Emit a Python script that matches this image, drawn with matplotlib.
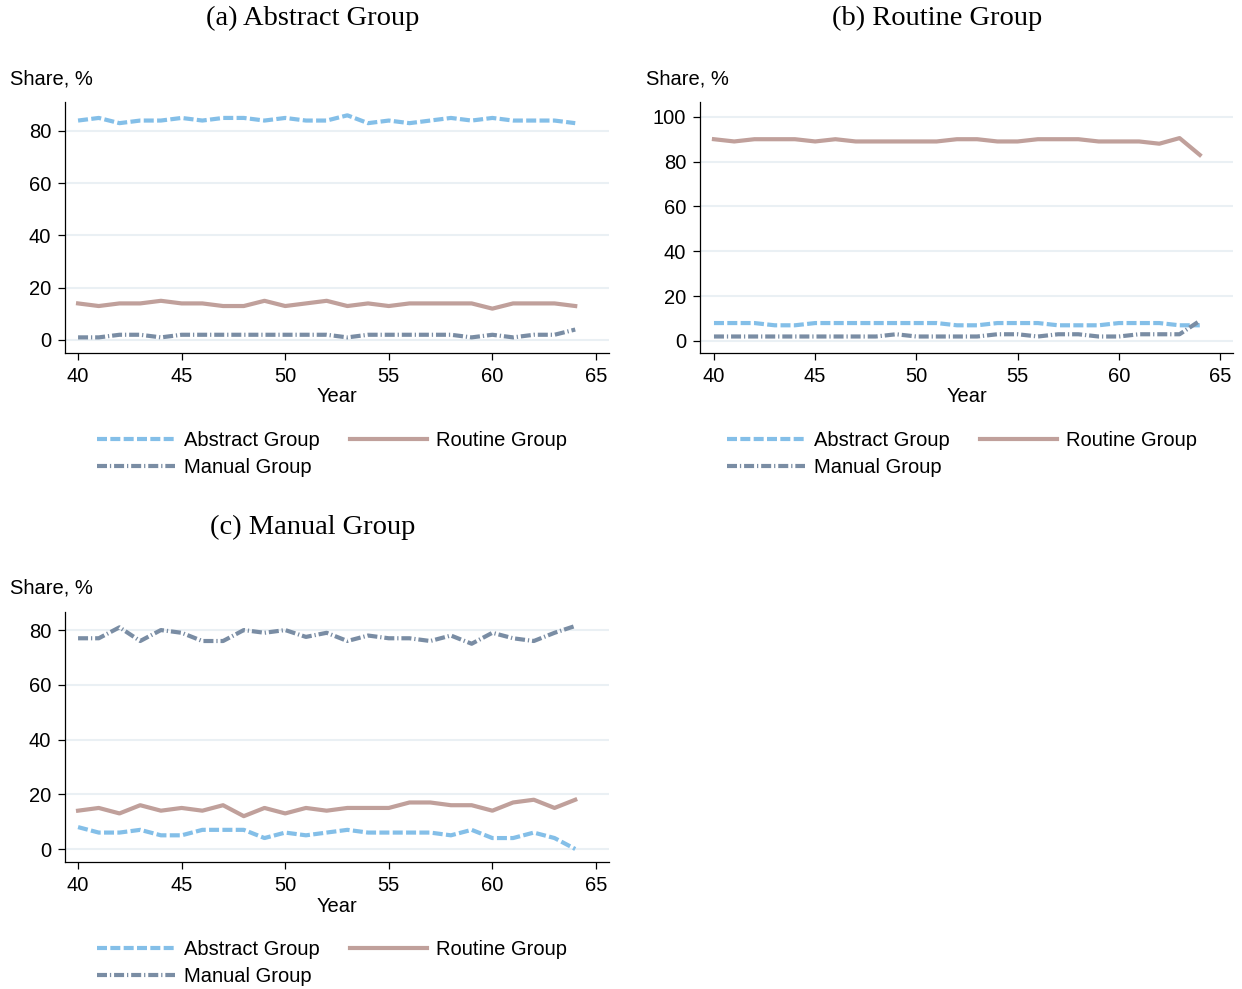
import numpy as np
import matplotlib
matplotlib.use("Agg")
import matplotlib.pyplot as plt

# Data
years = list(range(40, 65))

# panel (a) Abstract Group
a_abstract = [84, 85, 83, 84, 84, 85, 84, 85, 85, 84, 85, 84, 84, 86, 83,
              84, 83, 84, 85, 84, 85, 84, 84, 84, 83]
a_routine = [14, 13, 14, 14, 15, 14, 14, 13, 13, 15, 13, 14, 15, 13, 14,
             13, 14, 14, 14, 14, 12, 14, 14, 14, 13]
a_manual = [1, 1, 2, 2, 1, 2, 2, 2, 2, 2, 2, 2, 2, 1, 2,
            2, 2, 2, 2, 1, 2, 1, 2, 2, 4]

# panel (b) Routine Group
b_abstract = [8, 8, 8, 7, 7, 8, 8, 8, 8, 8, 8, 8, 7, 7, 8,
              8, 8, 7, 7, 7, 8, 8, 8, 7, 7]
b_routine = [90, 89, 90, 90, 90, 89, 90, 89, 89, 89, 89, 89, 90, 90, 89,
             89, 90, 90, 90, 89, 89, 89, 88, 90.5, 83]
b_manual = [2, 2, 2, 2, 2, 2, 2, 2, 2, 3, 2, 2, 2, 2, 3,
            3, 2, 3, 3, 2, 2, 3, 3, 3, 9]

# panel (c) Manual Group
c_abstract = [8, 6, 6, 7, 5, 5, 7, 7, 7, 4, 6, 5, 6, 7, 6,
              6, 6, 6, 5, 7, 4, 4, 6, 4, 0]
c_routine = [14, 15, 13, 16, 14, 15, 14, 16, 12, 15, 13, 15, 14, 15, 15,
             15, 17, 17, 16, 16, 14, 17, 18, 15, 18]
c_manual = [77, 77, 81, 76, 80, 79, 76, 76, 80, 79, 80, 77.5, 79, 76, 78,
            77, 77, 76, 78, 75, 79, 77, 76, 79, 81.5]

titles = ["(a) Abstract Group", "(b) Routine Group", "(c) Manual Group"]
labels = ["Abstract Group", "Routine Group", "Manual Group"]

col_abs = "#84bfe8"
col_rou = "#c0a09b"
col_man = "#7a8da4"
grid_col = "#eaf0f4"

plt.rcParams["font.family"] = ["Liberation Sans", "DejaVu Sans"]

W, H = 1242, 989
fig = plt.figure(figsize=(W / 100, H / 100), dpi=100)


def px_axes(l, t, r, b):
    return fig.add_axes([l / W, 1 - b / H, (r - l) / W, (b - t) / H])


panels = [
    # axes box (px), ylim, yticks, data, title centre, share pos, year pos, legend pos
    dict(box=(65, 102, 609, 353), ylim=(-4.98, 91.1), yt=range(0, 81, 20),
         xlim=(39.37, 65.63),
         data=(a_abstract, a_routine, a_manual), title=(313, 18),
         share=(10, 79), year=(337, 397), leg=(97, 431)),
    dict(box=(700, 102, 1233, 353), ylim=(-5.36, 106.6), yt=range(0, 101, 20),
         xlim=(39.31, 65.64),
         data=(b_abstract, b_routine, b_manual), title=(937, 18),
         share=(646, 79), year=(967, 397), leg=(727, 431)),
    dict(box=(65, 612, 609, 862), ylim=(-4.75, 86.6), yt=range(0, 81, 20),
         xlim=(39.37, 65.63),
         data=(c_abstract, c_routine, c_manual), title=(313, 527),
         share=(10, 588), year=(337, 906), leg=(97, 940)),
]

fs = 14.5
for i, p in enumerate(panels):
    ax = px_axes(*p["box"])
    ab, ro, ma = p["data"]
    l1, = ax.plot(years, ab, color=col_abs, lw=3, dashes=(2.4, 0.8),
                  label=labels[0], zorder=3)
    l2, = ax.plot(years, ro, color=col_rou, lw=3, label=labels[1], zorder=3)
    l3, = ax.plot(years, ma, color=col_man, lw=3,
                  dashes=(2.4, 0.7, 0.3, 0.7), label=labels[2], zorder=3)
    ax.set_xlim(*p["xlim"])
    ax.set_ylim(*p["ylim"])
    ax.set_xticks(range(40, 66, 5))
    ax.set_yticks(list(p["yt"]))
    ax.yaxis.grid(True, color=grid_col, lw=1.5)
    ax.set_axisbelow(True)
    for s in ["top", "right"]:
        ax.spines[s].set_visible(False)
    for s in ["left", "bottom"]:
        ax.spines[s].set_linewidth(0.9)
    ax.tick_params(length=5, width=0.9, labelsize=fs, pad=5)

    fig.text(p["title"][0] / W, 1 - p["title"][1] / H, titles[i],
             family="Liberation Serif", fontsize=20.5, ha="center", va="center")
    fig.text(p["share"][0] / W, 1 - p["share"][1] / H, "Share, %",
             fontsize=fs, ha="left", va="center")
    fig.text(p["year"][0] / W, 1 - p["year"][1] / H, "Year",
             fontsize=fs, ha="center", va="center")

    ax.legend([l1, l3, l2], [labels[0], labels[2], labels[1]], ncol=2,
              loc="upper left",
              bbox_to_anchor=(p["leg"][0] / W, 1 - p["leg"][1] / H),
              bbox_transform=fig.transFigure, frameon=False, fontsize=fs,
              handlelength=3.85, handletextpad=0.45, columnspacing=1.5,
              labelspacing=0.4, borderpad=0, borderaxespad=0)

fig.savefig("out.png", dpi=100)
